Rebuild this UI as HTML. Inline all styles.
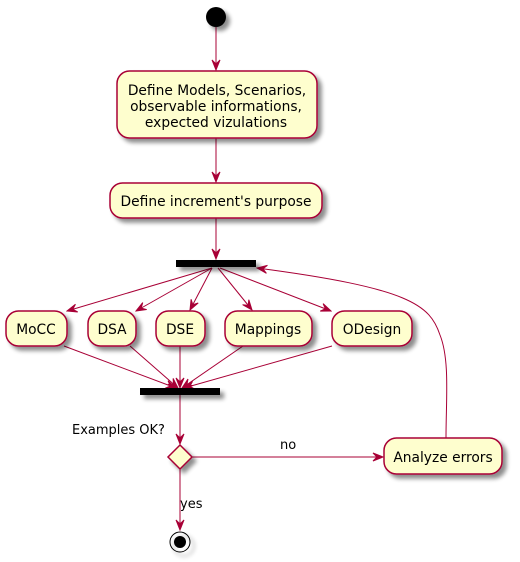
<!DOCTYPE html>
<html><head><meta charset="utf-8"><style>
html,body{margin:0;padding:0;background:#fff;}
svg{display:block;}
text{font-family:"DejaVu Sans","Liberation Sans",sans-serif;font-size:13.8px;fill:#000;}
</style></head><body>
<svg width="520" height="562" viewBox="0 0 520 562" xmlns="http://www.w3.org/2000/svg">
<defs>
<marker id="a" markerUnits="userSpaceOnUse" viewBox="-11 -5 12 10" refX="0" refY="0" markerWidth="12" markerHeight="10" orient="auto">
<path d="M0,0 L-10,-4 L-6,0 L-10,4 Z" fill="#A80036" stroke="#A80036" stroke-width="1"/>
</marker>
<filter id="s" x="-20%" y="-20%" width="150%" height="160%"><feGaussianBlur in="SourceAlpha" stdDeviation="2"/><feOffset dx="4" dy="4"/><feComponentTransfer><feFuncA type="linear" slope="0.45"/></feComponentTransfer><feMerge><feMergeNode/><feMergeNode in="SourceGraphic"/></feMerge></filter>
</defs>
<g fill="none" stroke="#A80036" stroke-width="1">
<line x1="216" y1="27" x2="216" y2="70" marker-end="url(#a)"/>
<line x1="216" y1="138" x2="216" y2="182" marker-end="url(#a)"/>
<line x1="216" y1="218" x2="216" y2="259" marker-end="url(#a)"/>
<line x1="212" y1="268" x2="67" y2="311" marker-end="url(#a)"/>
<line x1="212" y1="268" x2="136" y2="311" marker-end="url(#a)"/>
<line x1="212" y1="268" x2="190" y2="310" marker-end="url(#a)"/>
<line x1="218" y1="268" x2="252" y2="310" marker-end="url(#a)"/>
<line x1="220" y1="268" x2="331" y2="311" marker-end="url(#a)"/>
<line x1="64" y1="346" x2="176" y2="388" marker-end="url(#a)"/>
<line x1="130" y1="346" x2="178" y2="388" marker-end="url(#a)"/>
<line x1="180" y1="346" x2="180" y2="388" marker-end="url(#a)"/>
<line x1="243" y1="346" x2="182" y2="388" marker-end="url(#a)"/>
<line x1="332" y1="346" x2="184" y2="388" marker-end="url(#a)"/>
<line x1="180" y1="395" x2="180" y2="444" marker-end="url(#a)"/>
<line x1="192" y1="457" x2="383" y2="457" marker-end="url(#a)"/>
<line x1="180" y1="469" x2="180" y2="530" marker-end="url(#a)"/>
<path d="M446,438 C446,400 450,360 440,335 C430,305 410,288 257,268" marker-end="url(#a)"/>
</g>
<g filter="url(#s)">
<circle cx="216" cy="17" r="10" fill="#000"/>
<g fill="#FEFECE" stroke="#A80036" stroke-width="1.5">
<rect x="117" y="71" width="200" height="67" rx="12.5"/>
<rect x="110" y="183" width="212" height="35" rx="12.5"/>
<rect x="6" y="311" width="61" height="35" rx="12.5"/>
<rect x="88" y="311" width="48" height="35" rx="12.5"/>
<rect x="156" y="311" width="49" height="35" rx="12.5"/>
<rect x="225" y="311" width="87" height="35" rx="12.5"/>
<rect x="332" y="311" width="80" height="35" rx="12.5"/>
<rect x="384" y="438" width="118" height="36" rx="12.5"/>
<polygon points="180,445 192,457 180,469 168,457"/>
</g>
<rect x="176" y="260" width="80" height="7" fill="#000"/>
<rect x="140" y="388" width="80" height="7" fill="#000"/>
<circle cx="180" cy="542" r="10" fill="none" stroke="#000" stroke-width="1"/>
</g>
<circle cx="180" cy="542" r="6" fill="#000"/>
<g text-anchor="middle">
<text x="217" y="95">Define Models, Scenarios,</text>
<text x="216" y="111">observable informations,</text>
<text x="216" y="127">expected vizulations</text>
<text x="216" y="206">Define increment's purpose</text>
<text x="36" y="334">MoCC</text>
<text x="112" y="334">DSA</text>
<text x="180" y="334">DSE</text>
<text x="268" y="334">Mappings</text>
<text x="372" y="334">ODesign</text>
<text x="443" y="462">Analyze errors</text>
</g>
<text x="72" y="434" style="font-size:13px">Examples OK?</text>
<text x="280" y="449" style="font-size:13px">no</text>
<text x="180" y="508" style="font-size:13px">yes</text>
</svg>
</body></html>
